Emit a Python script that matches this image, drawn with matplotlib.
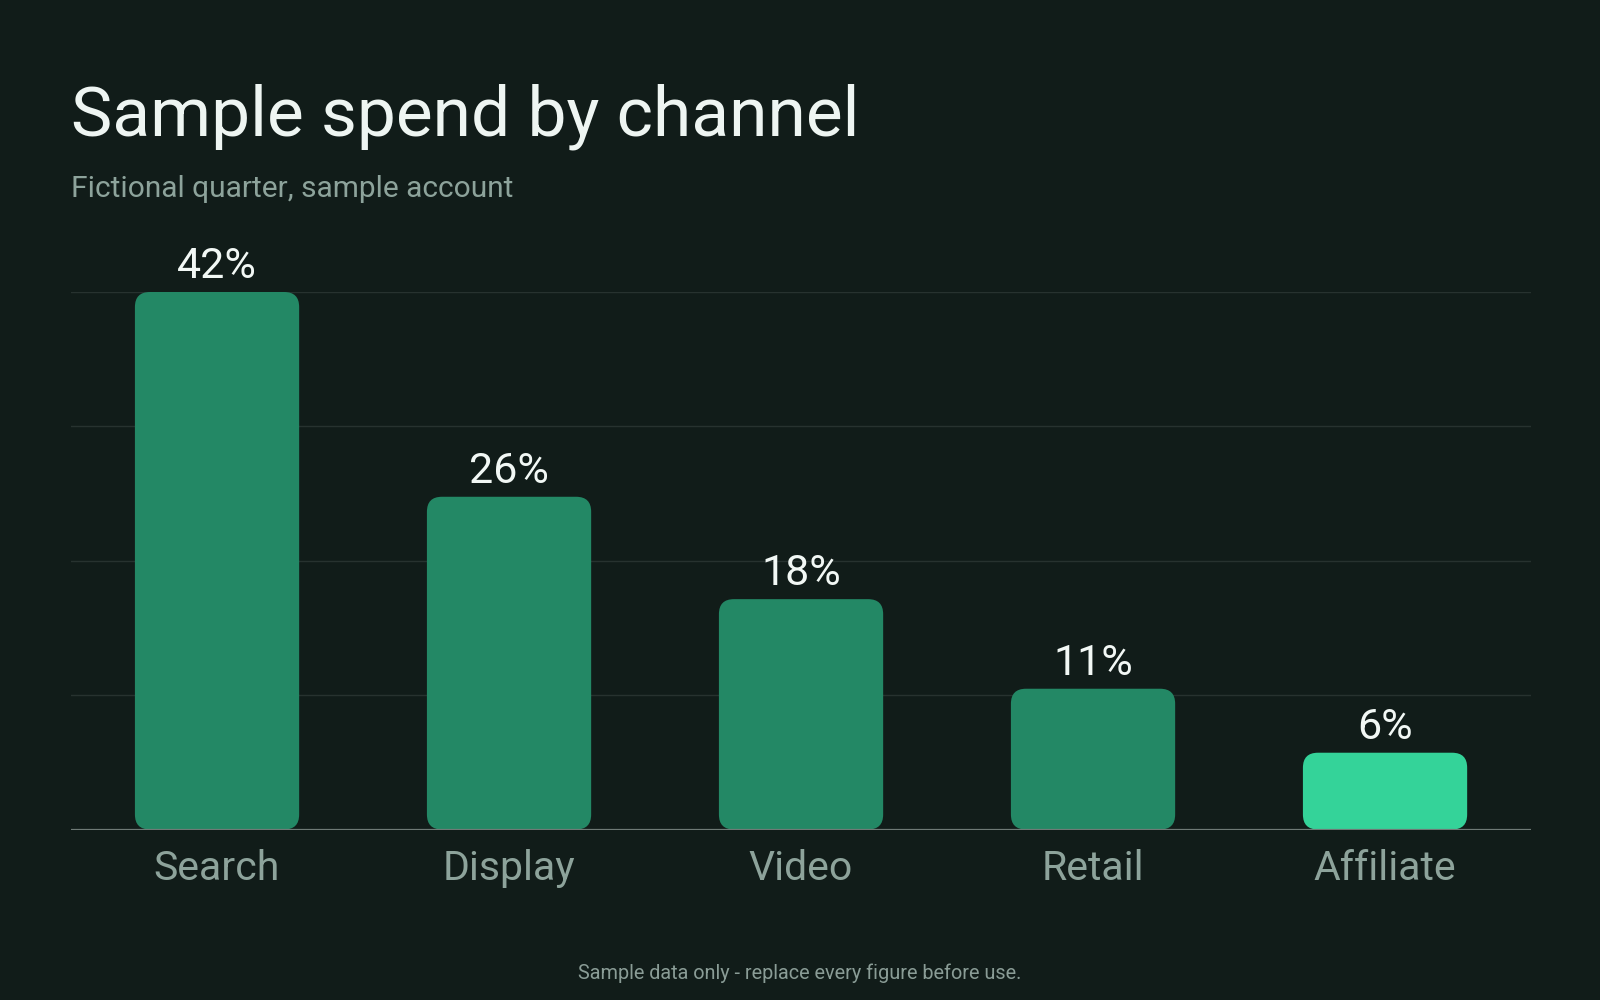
import numpy as np
import matplotlib
matplotlib.use("Agg")
import matplotlib.pyplot as plt
from matplotlib.patches import FancyBboxPatch

# data
channels = ["Search", "Display", "Video", "Retail", "Affiliate"]
spend_pct = [42, 26, 18, 11, 6]
highlight = "Affiliate"

# colours
bg = "#111C19"
bar_col = "#238865"
hi_col = "#34D399"
grid_col = "#27322F"
base_col = "#6F7A76"
title_col = "#EEF5F2"
sub_col = "#8DA39B"
label_col = "#F2F8F5"

plt.rcParams["font.family"] = ["Roboto", "DejaVu Sans"]

fig = plt.figure(figsize=(16, 10), dpi=100, facecolor=bg)
ax = fig.add_axes([0.0444, 0.1705, 0.9125, 0.5375])
ax.set_facecolor(bg)

x = np.arange(len(channels))
ymax = max(spend_pct)
ax.set_xlim(-0.5, len(channels) - 0.5)
ax.set_ylim(0, ymax)

# gridlines at quarters of the top value
for g in np.linspace(0, ymax, 5)[1:]:
    ax.axhline(g, color=grid_col, lw=1, zorder=0)

# rounded bars: work out the aspect so the corners are circular in pixels
p0 = ax.transData.transform((0, 0))
p1 = ax.transData.transform((1, 1))
px_x = p1[0] - p0[0]
px_y = p1[1] - p0[1]
radius_px = 15
bw = 0.5625
for xi, name, v in zip(x, channels, spend_pct):
    col = hi_col if name == highlight else bar_col
    box = FancyBboxPatch((xi - bw / 2, 0), bw, v,
                         boxstyle="round,pad=0,rounding_size=%f" % (radius_px / px_x),
                         mutation_aspect=px_x / px_y,
                         fc=col, ec="none", zorder=2)
    ax.add_patch(box)
    ax.annotate("%d%%" % v, (xi, v), xytext=(0, 10), textcoords="offset points",
                ha="center", va="baseline", fontsize=31, color=label_col,
                annotation_clip=False, zorder=3)

ax.axhline(0, color=base_col, lw=1.6, zorder=4)

for s in ax.spines.values():
    s.set_visible(False)
ax.set_yticks([])
ax.set_xticks(x)
ax.set_xticklabels(channels, fontsize=29.5, color=sub_col)
ax.tick_params(axis="x", length=0, pad=14)

fig.text(0.0444, 0.864, "Sample spend by channel", fontsize=50, color=title_col,
         ha="left", va="baseline")
fig.text(0.0444, 0.803, "Fictional quarter, sample account", fontsize=21.5,
         color=sub_col, ha="left", va="baseline")
fig.text(0.5, 0.021, "Sample data only - replace every figure before use.",
         fontsize=14.3, color="#8A9C96", ha="center", va="baseline")

fig.savefig("out.png", dpi=100, facecolor=bg)
